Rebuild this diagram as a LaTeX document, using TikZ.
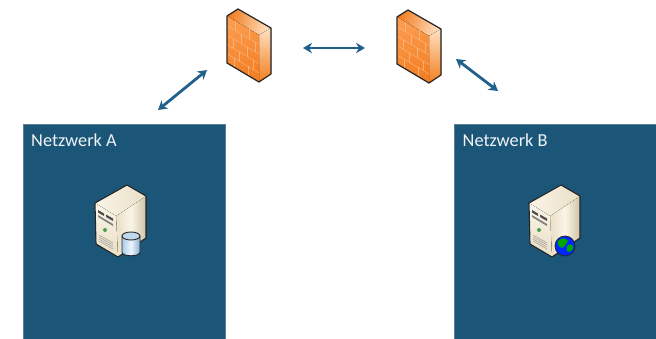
\documentclass[tikz,border=0pt]{standalone}
\usepackage{fontspec}
\setmainfont{Carlito}
\usetikzlibrary{arrows.meta}
\definecolor{netblue}{HTML}{1B5578}
\definecolor{netedge}{HTML}{5E7F94}
\definecolor{arrowblue}{HTML}{20608A}
\definecolor{fwdark}{HTML}{F27F22}
\definecolor{fwmid}{HTML}{FC9C50}
\definecolor{fwlight}{HTML}{FFE0C0}
\definecolor{fwline}{HTML}{FFBE8A}
\definecolor{srvlight}{HTML}{FAF5E8}
\definecolor{srvmid}{HTML}{EADFC6}
\definecolor{srvdark}{HTML}{CFC3A6}
\definecolor{dbleft}{HTML}{A9CBE8}
\definecolor{dbmid}{HTML}{EEF6FD}
\definecolor{dbright}{HTML}{86AED3}
\definecolor{dbtop}{HTML}{BFD8EE}
\tikzset{
  x=1pt,y=-1pt,
  netbox/.style={draw=netedge,line width=0.8pt,fill=netblue,minimum width=202pt,minimum height=216pt,anchor=north west,inner sep=0pt},
  netlabel/.style={text=white!93!netblue,font=\fontsize{18.3pt}{20pt}\selectfont,anchor=west,inner sep=0pt},
  link/.style={draw=arrowblue,line width=2.8pt,{Stealth[length=9pt,width=10.5pt]}-{Stealth[length=9pt,width=10.5pt]}},
  outline/.style={draw=black!85,line width=1.2pt,line join=round},
  pics/firewall/.style={code={
    \fill[left color=fwdark,right color=fwlight,shading angle=75] (0,7) -- (11,0) -- (44,19) -- (32,26) -- cycle;
    \fill[top color=fwlight,bottom color=fwdark] (32,26) -- (44,19) -- (44,65) -- (32,73) -- cycle;
    \fill[top color=fwmid,bottom color=fwdark,shading angle=15] (0,7) -- (32,26) -- (32,73) -- (0,54) -- cycle;
    \foreach \v in {9.5,19,28.5,38}
      \draw[fwline,opacity=.75,line width=0.5pt] (0,7+\v) -- (32,26+\v);
    \foreach \u/\a/\b in {8/0/9.5,22/0/9.5,14/9.5/19,28/9.5/19,6/19/28.5,20/19/28.5,12/28.5/38,26/28.5/38,7/38/47,21/38/47}
      \draw[fwline,opacity=.75,line width=0.5pt] (\u,7+0.594*\u+\a) -- (\u,7+0.594*\u+\b);
    \draw[outline] (0,7) -- (11,0) -- (44,19) -- (44,65) -- (32,73) -- (0,54) -- cycle;
  }},
  pics/server/.style={code={
    \fill[left color=srvmid,right color=srvdark,middle color=srvlight] (21,31) -- (51,11) -- (51,53) -- (23,72) -- cycle;
    \fill[left color=srvlight,right color=srvmid] (0,18) -- (32,0) -- (51,11) -- (21,31) -- cycle;
    \fill[top color=srvlight,bottom color=srvmid] (0,18) -- (21,31) -- (23,72) -- (1,59) -- cycle;
    \fill[black!70] (3,25) -- (9,28.5) -- (9,31) -- (3,27.5) -- cycle;
    \fill[black!70] (11,29.5) -- (18,33.5) -- (18,36) -- (11,32) -- cycle;
    \fill[black!50] (3,30) -- (18,39) -- (18,41) -- (3,32) -- cycle;
    \fill[green!45!black!70] (10,45) circle (2);
    \foreach \d in {0,2,4,6}
      \draw[black!40,line width=0.5pt] (4,50+\d) -- (18,58+\d);
    \draw[outline,line width=1.1pt] (0,18) -- (32,0) -- (51,11) -- (51,53) -- (23,72) -- (1,59) -- cycle;
  }},
  pics/database/.style={code={
    \shade[left color=dbleft,right color=dbright,middle color=dbmid] (-9,-5) -- (-9,11) .. controls (-9,16) and (9,16) .. (9,11) -- (9,-5) -- cycle;
    \fill[dbtop] (0,-5) ellipse[x radius=9,y radius=4];
    \draw[black!85,line width=0.9pt] (-9,-5) -- (-9,11) .. controls (-9,16) and (9,16) .. (9,11) -- (9,-5);
    \draw[black!85,line width=0.9pt] (0,-5) ellipse[x radius=9,y radius=4];
  }},
  pics/globe/.style={code={
    \fill[blue!85!cyan] (0,0) circle (10);
    \fill[green!65!black] (-7,-5) .. controls (-3,-9) and (1,-8) .. (3,-5) .. controls (1,-2) and (-1,1) .. (-3,2) .. controls (-6,1) and (-8,-2) .. (-7,-5) -- cycle;
    \fill[green!65!black] (3,-1) .. controls (7,-3) and (9,0) .. (8,3) .. controls (6,6) and (3,7) .. (2,5) .. controls (1,2) and (2,0) .. (3,-1) -- cycle;
    \draw[black!85,line width=0.8pt] (0,0) circle (10);
  }}
}
\begin{document}
\begin{tikzpicture}
\useasboundingbox (0,0) rectangle (656,338);
\begin{scope}
\clip (0,0) rectangle (656,338);
\node[netbox] (boxA) at (23,124) {};
\node[netbox] (boxB) at (454,124) {};
\end{scope}
\node[netlabel] (labelA) at (31,140) {Netzwerk A};
\node[netlabel] (labelB) at (462.5,140) {Netzwerk B};
\pic at (227,9) {firewall};
\pic at (397,10) {firewall};
\pic at (95,185) {server};
\pic at (529,185) {server};
\pic at (131,241) {database};
\pic at (565,246) {globe};
\coordinate (a1) at (158,110);
\coordinate (a2) at (207,70);
\coordinate (b1) at (303,48);
\coordinate (b2) at (365,48);
\coordinate (c1) at (456,59);
\coordinate (c2) at (498,91);
\draw[link] (a1) -- (a2);
\draw[link] (b1) -- (b2);
\draw[link] (c1) -- (c2);
\end{tikzpicture}
\end{document}
